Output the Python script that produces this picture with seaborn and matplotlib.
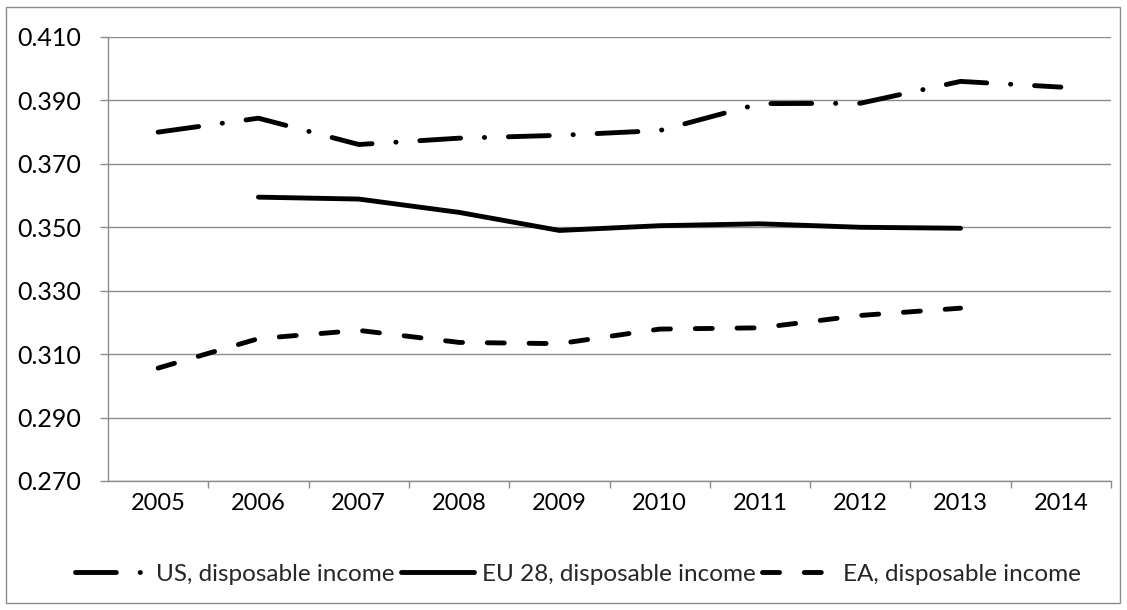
import matplotlib
matplotlib.use("Agg")
import matplotlib.pyplot as plt
from matplotlib.patches import Rectangle
import numpy as np
import pandas as pd
import seaborn as sns

# Gini coefficients of disposable income
years = ["2005", "2006", "2007", "2008", "2009", "2010", "2011", "2012", "2013", "2014"]
us_income = [0.380, 0.3844, 0.3761, 0.3781, 0.3790, 0.3805, 0.3890, 0.3891, 0.3960, 0.3942]
eu28_income = [np.nan, 0.3595, 0.3589, 0.3547, 0.3490, 0.3505, 0.3511, 0.3500, 0.3497, np.nan]
ea_income = [0.3056, 0.3149, 0.3175, 0.3137, 0.3133, 0.3179, 0.3183, 0.3222, 0.3245, np.nan]

series_names = ["US, disposable income", "EU 28, disposable income", "EA, disposable income"]
y_ticks = [0.270, 0.290, 0.310, 0.330, 0.350, 0.370, 0.390, 0.410]

sns.set_theme(style="white")
plt.rcParams["font.family"] = ["Lato", "DejaVu Sans"]

W, H, DPI = 1127, 610, 100
fig = plt.figure(figsize=(W / DPI, H / DPI), dpi=DPI)
ax = fig.add_axes([108 / W, 1 - 481 / H, (1111 - 108) / W, (481 - 37) / H])

grid_col = "#8c8c8c"
lw = 3.5
patterns = [(8.4, 4.9, 0.05, 4.9), None, (3.5, 5.1)]

for name, vals, pat in zip(series_names, [us_income, eu28_income, ea_income], patterns):
    df = pd.DataFrame({"year": years, "value": vals}).dropna()
    sns.lineplot(data=df, x="year", y="value", ax=ax, color="black",
                 linewidth=lw, label=name, sort=False)
    line = ax.lines[-1]
    if pat is not None:
        line.set_dashes(pat)
    line.set_dash_capstyle("round")
    line.set_solid_capstyle("round")

ax.set_xlim(-0.5, len(years) - 0.5)
ax.set_ylim(0.270, 0.410)
ax.set_yticks(y_ticks)
ax.set_yticklabels([f"{v:.3f}" for v in y_ticks])
ax.set_xticks(range(len(years)))
ax.set_xticklabels(years)
ax.set_xticks(np.arange(len(years)) + 0.5, minor=True)
ax.set_xlabel("")
ax.set_ylabel("")

ax.grid(axis="y", color=grid_col, linewidth=1.0)
ax.set_axisbelow(True)
for side in ["top", "right"]:
    ax.spines[side].set_visible(False)
for side in ["left", "bottom"]:
    ax.spines[side].set_color(grid_col)
    ax.spines[side].set_linewidth(1.0)

ax.tick_params(axis="y", which="major", length=6, width=1.0, color=grid_col,
               pad=13, labelsize=18, labelcolor="black", left=True)
ax.tick_params(axis="x", which="major", length=0, pad=9, labelsize=17, labelcolor="black")
ax.tick_params(axis="x", which="minor", length=5, width=1.0, color=grid_col, bottom=True)

leg = ax.legend(loc="center", bbox_to_anchor=(578 / W, 1 - 574 / H),
                bbox_transform=fig.transFigure, ncol=3, frameon=False,
                fontsize=17.5, handlelength=3.0, handletextpad=0.35, columnspacing=0.25)
for h in leg.get_lines():
    h.set_linewidth(lw)

fig.patches.append(Rectangle((6 / W, 1 - 603 / H), (1120 - 6) / W, (603 - 7) / H,
                             transform=fig.transFigure, fill=False,
                             edgecolor=grid_col, linewidth=1.0))

fig.savefig("out.png", dpi=DPI)
